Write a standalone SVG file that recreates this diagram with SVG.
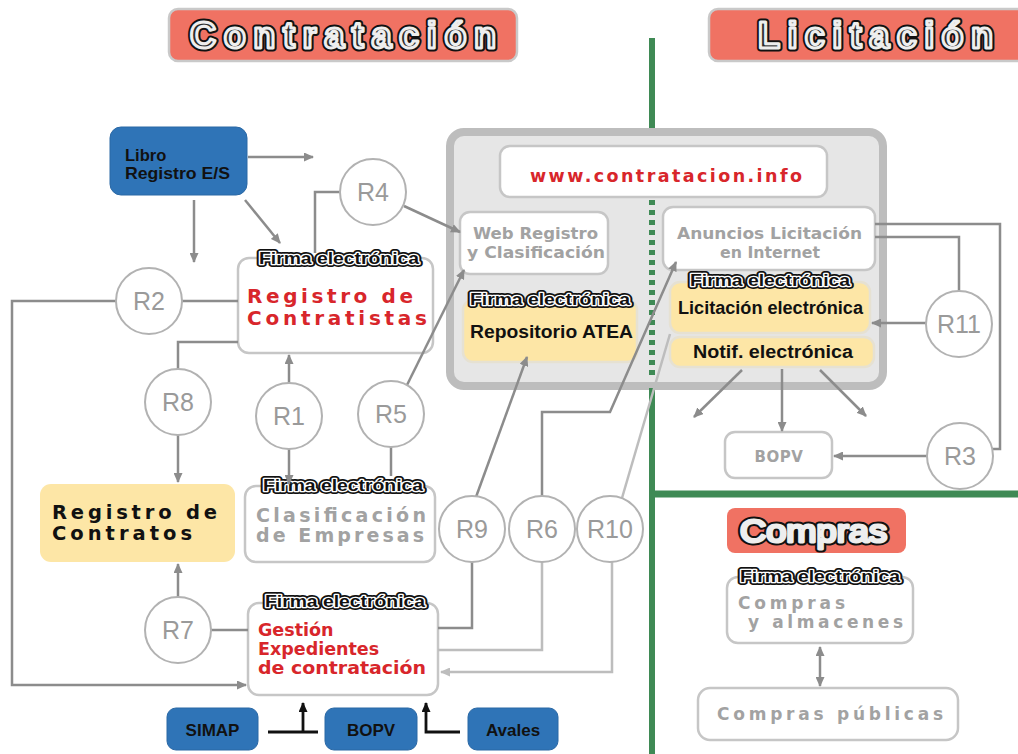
<svg xmlns="http://www.w3.org/2000/svg" xmlns:xlink="http://www.w3.org/1999/xlink" width="1018" height="754" viewBox="0 0 1018 754">
<style>
.ln{fill:none;stroke:#8c8c8c;stroke-width:2.5}
.lt{fill:none;stroke:#bdbdbd;stroke-width:2.5}
.bk{fill:none;stroke:#111;stroke-width:2.8}
.box{fill:#fff;stroke:#c6c6c6;stroke-width:2.5}
.yel{fill:#fde6a6;stroke:#e6e1d2;stroke-width:2.5}
.blue{fill:#2f74b7;stroke:#2a68a5;stroke-width:1}
.hdr{fill:#f07263;stroke:#c9c9c9;stroke-width:2.5}
.cir{fill:#fff;stroke:#b2b2b2;stroke-width:2}
.ct{font-family:"Liberation Sans",Arial,sans-serif;font-size:25px;fill:#9a9a9a;text-anchor:middle}
.gt{font-family:"DejaVu Sans",Verdana,sans-serif;font-weight:bold;fill:#a2a2a2}
.bt{font-family:"Liberation Sans",Arial,sans-serif;font-weight:bold;fill:#111}
.bd{font-family:"DejaVu Sans",Verdana,sans-serif;font-weight:bold;fill:#111}
.rt{font-family:"DejaVu Sans",Verdana,sans-serif;font-weight:bold;fill:#d8262b}
.f1{stroke:#111;stroke-width:6;stroke-linejoin:round;fill:#111}
.f2{stroke:#fff;stroke-width:2.6;stroke-linejoin:round;fill:#111}
.f3{fill:#111;stroke:none}
.h1{stroke:#111;stroke-width:7;stroke-linejoin:round;fill:#111}
.h2{stroke:#eee;stroke-width:3;stroke-linejoin:round;fill:#2a2a2a}
</style>
<defs>
<marker id="ad" viewBox="0 0 10 9" refX="9" refY="4.5" markerWidth="10" markerHeight="9" markerUnits="userSpaceOnUse" orient="auto-start-reverse"><path d="M0,0 L10,4.5 L0,9 z" fill="#8c8c8c"/></marker>
<marker id="al" viewBox="0 0 10 9" refX="9" refY="4.5" markerWidth="10" markerHeight="9" markerUnits="userSpaceOnUse" orient="auto"><path d="M0,0 L10,4.5 L0,9 z" fill="#bdbdbd"/></marker>
<marker id="ab" viewBox="0 0 10 9" refX="9" refY="4.5" markerWidth="10" markerHeight="9" markerUnits="userSpaceOnUse" orient="auto"><path d="M0,0 L10,4.5 L0,9 z" fill="#111"/></marker>
<text id="fe" x="0" y="0" text-anchor="middle" font-family="Liberation Sans, Arial, sans-serif" font-weight="bold" font-size="16" textLength="160" lengthAdjust="spacingAndGlyphs">Firma electrónica</text>
<text id="tC" x="0" y="0" font-family="Liberation Sans, Arial, sans-serif" font-weight="bold" font-size="36" textLength="306" lengthAdjust="spacing">Contratación</text>
<text id="tL" x="0" y="0" font-family="Liberation Sans, Arial, sans-serif" font-weight="bold" font-size="36" textLength="235" lengthAdjust="spacing">Licitación</text>
<text id="tP" x="0" y="0" font-family="Liberation Sans, Arial, sans-serif" font-size="32" textLength="147" lengthAdjust="spacingAndGlyphs">Compras</text>
</defs>
<rect width="1018" height="754" fill="#fff"/>

<g id="background">
<rect x="450" y="132" width="433" height="254" rx="14" fill="#e6e6e6" stroke="#bdbdbd" stroke-width="8"/>
<line x1="652" y1="38" x2="652" y2="128" stroke="#3f8a55" stroke-width="6"/>
<line x1="652" y1="200" x2="652" y2="380" stroke="#3f8a55" stroke-width="6" stroke-dasharray="5,5"/>
<line x1="652" y1="388" x2="652" y2="754" stroke="#3f8a55" stroke-width="6"/>
<line x1="652" y1="494" x2="1018" y2="494" stroke="#3f8a55" stroke-width="7"/>
</g>

<g id="header-contratacion">
<rect class="hdr" x="169" y="9" width="348" height="52" rx="9"/>
<use xlink:href="#tC" x="190" y="48" class="h1"/>
<use xlink:href="#tC" x="190" y="48" class="h2"/>
</g>
<g id="header-licitacion">
<rect class="hdr" x="709" y="9" width="320" height="52" rx="9"/>
<use xlink:href="#tL" x="758" y="48" class="h1"/>
<use xlink:href="#tL" x="758" y="48" class="h2"/>
</g>
<g id="header-compras">
<rect x="727" y="508" width="179" height="45" rx="8" fill="#f07263"/>
<use xlink:href="#tP" x="740" y="542" class="h1"/>
<use xlink:href="#tP" x="740" y="542" class="h2"/>
</g>

<g id="www">
<rect class="box" x="500" y="146" width="327" height="51" rx="10"/>
<text class="rt" x="530" y="182" font-size="17.5" textLength="272" lengthAdjust="spacing">www.contratacion.info</text>
</g>
<g id="web-registro">
<rect class="box" x="460" y="212" width="148" height="62" rx="10"/>
<text class="gt" x="473" y="239" font-size="16" textLength="125" lengthAdjust="spacingAndGlyphs">Web Registro</text>
<text class="gt" x="467" y="258" font-size="16" textLength="138" lengthAdjust="spacingAndGlyphs">y Clasificación</text>
</g>
<g id="repositorio">
<rect class="yel" x="463" y="300" width="174" height="62" rx="10"/>
<use xlink:href="#fe" x="550" y="305" class="f1"/><use xlink:href="#fe" x="550" y="305" class="f2"/><use xlink:href="#fe" x="550" y="305" class="f3"/>
<text class="bt" x="470" y="338" font-size="17.5" textLength="163" lengthAdjust="spacingAndGlyphs">Repositorio ATEA</text>
</g>
<g id="anuncios">
<rect class="box" x="663" y="207" width="212" height="63" rx="10"/>
<text class="gt" x="677" y="239" font-size="16" textLength="185" lengthAdjust="spacingAndGlyphs">Anuncios Licitación</text>
<text class="gt" x="720" y="258" font-size="16" textLength="100" lengthAdjust="spacingAndGlyphs">en Internet</text>
</g>
<g id="licitacion-electronica">
<rect class="yel" x="670" y="282" width="200" height="51" rx="10"/>
<use xlink:href="#fe" x="770" y="286" class="f1"/><use xlink:href="#fe" x="770" y="286" class="f2"/><use xlink:href="#fe" x="770" y="286" class="f3"/>
<text class="bt" x="678" y="314" font-size="17.5" textLength="185" lengthAdjust="spacingAndGlyphs">Licitación electrónica</text>
</g>
<g id="notif">
<rect class="yel" x="670" y="337" width="204" height="30" rx="10"/>
<text class="bt" x="693" y="358" font-size="17.5" textLength="160" lengthAdjust="spacingAndGlyphs">Notif. electrónica</text>
</g>

<g id="libro">
<rect class="blue" x="110" y="127" width="137" height="68" rx="11"/>
<text class="bt" x="125" y="161" font-size="16.5">Libro</text>
<text class="bt" x="125" y="179" font-size="16.5" textLength="105" lengthAdjust="spacingAndGlyphs">Registro E/S</text>
</g>
<g id="registro-contratistas">
<rect class="box" x="238" y="258" width="195" height="95" rx="11"/>
<use xlink:href="#fe" x="339" y="264" class="f1"/><use xlink:href="#fe" x="339" y="264" class="f2"/><use xlink:href="#fe" x="339" y="264" class="f3"/>
<text class="rt" x="247" y="303" font-size="20" textLength="166" lengthAdjust="spacing">Registro de</text>
<text class="rt" x="247" y="325" font-size="20" textLength="180" lengthAdjust="spacing">Contratistas</text>
</g>
<g id="registro-contratos">
<rect x="40" y="484" width="195" height="78" rx="11" fill="#fde6a6"/>
<text class="bd" x="52" y="519" font-size="19.5" textLength="165" lengthAdjust="spacing">Registro de</text>
<text class="bd" x="52" y="540" font-size="19.5" textLength="140" lengthAdjust="spacing">Contratos</text>
</g>
<g id="clasificacion">
<rect class="box" x="245" y="486" width="190" height="76" rx="11"/>
<use xlink:href="#fe" x="343" y="491" class="f1"/><use xlink:href="#fe" x="343" y="491" class="f2"/><use xlink:href="#fe" x="343" y="491" class="f3"/>
<text class="gt" x="256" y="522" font-size="19" textLength="170" lengthAdjust="spacing">Clasificación</text>
<text class="gt" x="256" y="542" font-size="19" textLength="168" lengthAdjust="spacing">de Empresas</text>
</g>
<g id="gestion">
<rect class="box" x="248" y="603" width="190" height="92" rx="11"/>
<use xlink:href="#fe" x="345" y="607" class="f1"/><use xlink:href="#fe" x="345" y="607" class="f2"/><use xlink:href="#fe" x="345" y="607" class="f3"/>
<text class="rt" x="258" y="636" font-size="17.5">Gestión</text>
<text class="rt" x="258" y="655" font-size="17.5">Expedientes</text>
<text class="rt" x="258" y="674" font-size="17.5" textLength="168" lengthAdjust="spacingAndGlyphs">de contratación</text>
</g>
<g id="simap">
<rect class="blue" x="167" y="708" width="91" height="42" rx="9"/>
<text class="bt" x="212.5" y="736" font-size="17" text-anchor="middle">SIMAP</text>
</g>
<g id="bopv-bottom">
<rect class="blue" x="325" y="708" width="92" height="42" rx="9"/>
<text class="bt" x="371" y="736" font-size="17" text-anchor="middle">BOPV</text>
</g>
<g id="avales">
<rect class="blue" x="468" y="708" width="90" height="42" rx="9"/>
<text class="bt" x="513" y="736" font-size="17" text-anchor="middle">Avales</text>
</g>
<g id="bopv-right">
<rect class="box" x="725" y="432" width="107" height="46" rx="10"/>
<text class="gt" x="779" y="462" font-size="15" text-anchor="middle" letter-spacing="0.5">BOPV</text>
</g>
<g id="compras-almacenes">
<rect class="box" x="727" y="577" width="186" height="66" rx="11"/>
<use xlink:href="#fe" x="820" y="582" class="f1"/><use xlink:href="#fe" x="820" y="582" class="f2"/><use xlink:href="#fe" x="820" y="582" class="f3"/>
<text class="gt" x="738" y="609" font-size="17" textLength="107" lengthAdjust="spacing">Compras</text>
<text class="gt" x="748" y="628" font-size="17" textLength="155" lengthAdjust="spacing">y almacenes</text>
</g>
<g id="compras-publicas">
<rect class="box" x="698" y="688" width="260" height="52" rx="12"/>
<text class="gt" x="717" y="720" font-size="17" textLength="226" lengthAdjust="spacing">Compras públicas</text>
</g>

<g id="connectors">
<path class="ln" d="M248,157 H313" marker-end="url(#ad)"/>
<path class="ln" d="M194,200 V262" marker-end="url(#ad)"/>
<path class="ln" d="M245,200 L280,243" marker-end="url(#ad)"/>
<path class="ln" d="M340,192 H315 V253"/>
<path class="ln" d="M404,206 L460,232" marker-end="url(#ad)"/>
<path class="ln" d="M182,301 H238"/>
<path class="ln" d="M116,301 H12 V685 H246" marker-end="url(#ad)"/>
<path class="ln" d="M238,342 H178 V369"/>
<path class="ln" d="M178,435 V482" marker-end="url(#ad)"/>
<path class="ln" d="M289,383 V355" marker-end="url(#ad)"/>
<path class="ln" d="M289,449 V484" marker-end="url(#ad)"/>
<path class="ln" d="M391,447 V476"/>
<path class="ln" d="M407,385 L464,270" marker-end="url(#ad)"/>
<path class="ln" d="M178,597 V564" marker-end="url(#ad)"/>
<path class="ln" d="M211,630 H248"/>
<path class="ln" d="M476,497 L527,357" marker-end="url(#ad)"/>
<path class="ln" d="M472,562 V628 H438"/>
<path class="ln" d="M542,496 V412 H610 L676,262" marker-end="url(#ad)"/>
<path class="lt" d="M542,562 V650 H438"/>
<path class="lt" d="M622,498 L670,334"/>
<path class="lt" d="M612,562 V672 H441" marker-end="url(#al)"/>
<path class="ln" d="M875,224 H1000 V449 H992"/>
<path class="ln" d="M875,237 H959 V291"/>
<path class="ln" d="M926,323 H872" marker-end="url(#ad)"/>
<path class="ln" d="M927,456 H834" marker-end="url(#ad)"/>
<path class="ln" d="M742,370 L694,417" marker-end="url(#ad)"/>
<path class="ln" d="M782,369 V431" marker-end="url(#ad)"/>
<path class="ln" d="M820,370 L866,416" marker-end="url(#ad)"/>
<path class="ln" d="M820,647 V686" marker-start="url(#ad)" marker-end="url(#ad)"/>
<path class="bk" d="M268,732 H318"/>
<path class="bk" d="M303,732 V703" marker-end="url(#ab)"/>
<path class="bk" d="M460,732 H426 V703" marker-end="url(#ab)"/>
</g>

<g id="circles">
<g id="R4"><circle class="cir" cx="373" cy="192" r="33"/><text class="ct" x="373" y="201">R4</text></g>
<g id="R2"><circle class="cir" cx="149" cy="301" r="33"/><text class="ct" x="149" y="310">R2</text></g>
<g id="R8"><circle class="cir" cx="178" cy="402" r="33"/><text class="ct" x="178" y="411">R8</text></g>
<g id="R1"><circle class="cir" cx="289" cy="416" r="33"/><text class="ct" x="289" y="425">R1</text></g>
<g id="R5"><circle class="cir" cx="391" cy="414" r="33"/><text class="ct" x="391" y="423">R5</text></g>
<g id="R7"><circle class="cir" cx="178" cy="630" r="33"/><text class="ct" x="178" y="639">R7</text></g>
<g id="R9"><circle class="cir" cx="472" cy="529" r="33"/><text class="ct" x="472" y="538">R9</text></g>
<g id="R6"><circle class="cir" cx="542" cy="529" r="33"/><text class="ct" x="542" y="538">R6</text></g>
<g id="R10"><circle class="cir" cx="610" cy="529" r="33"/><text class="ct" x="610" y="538">R10</text></g>
<g id="R11"><circle class="cir" cx="959" cy="324" r="33"/><text class="ct" x="959" y="333">R11</text></g>
<g id="R3"><circle class="cir" cx="960" cy="456" r="33"/><text class="ct" x="960" y="465">R3</text></g>
</g>
</svg>
